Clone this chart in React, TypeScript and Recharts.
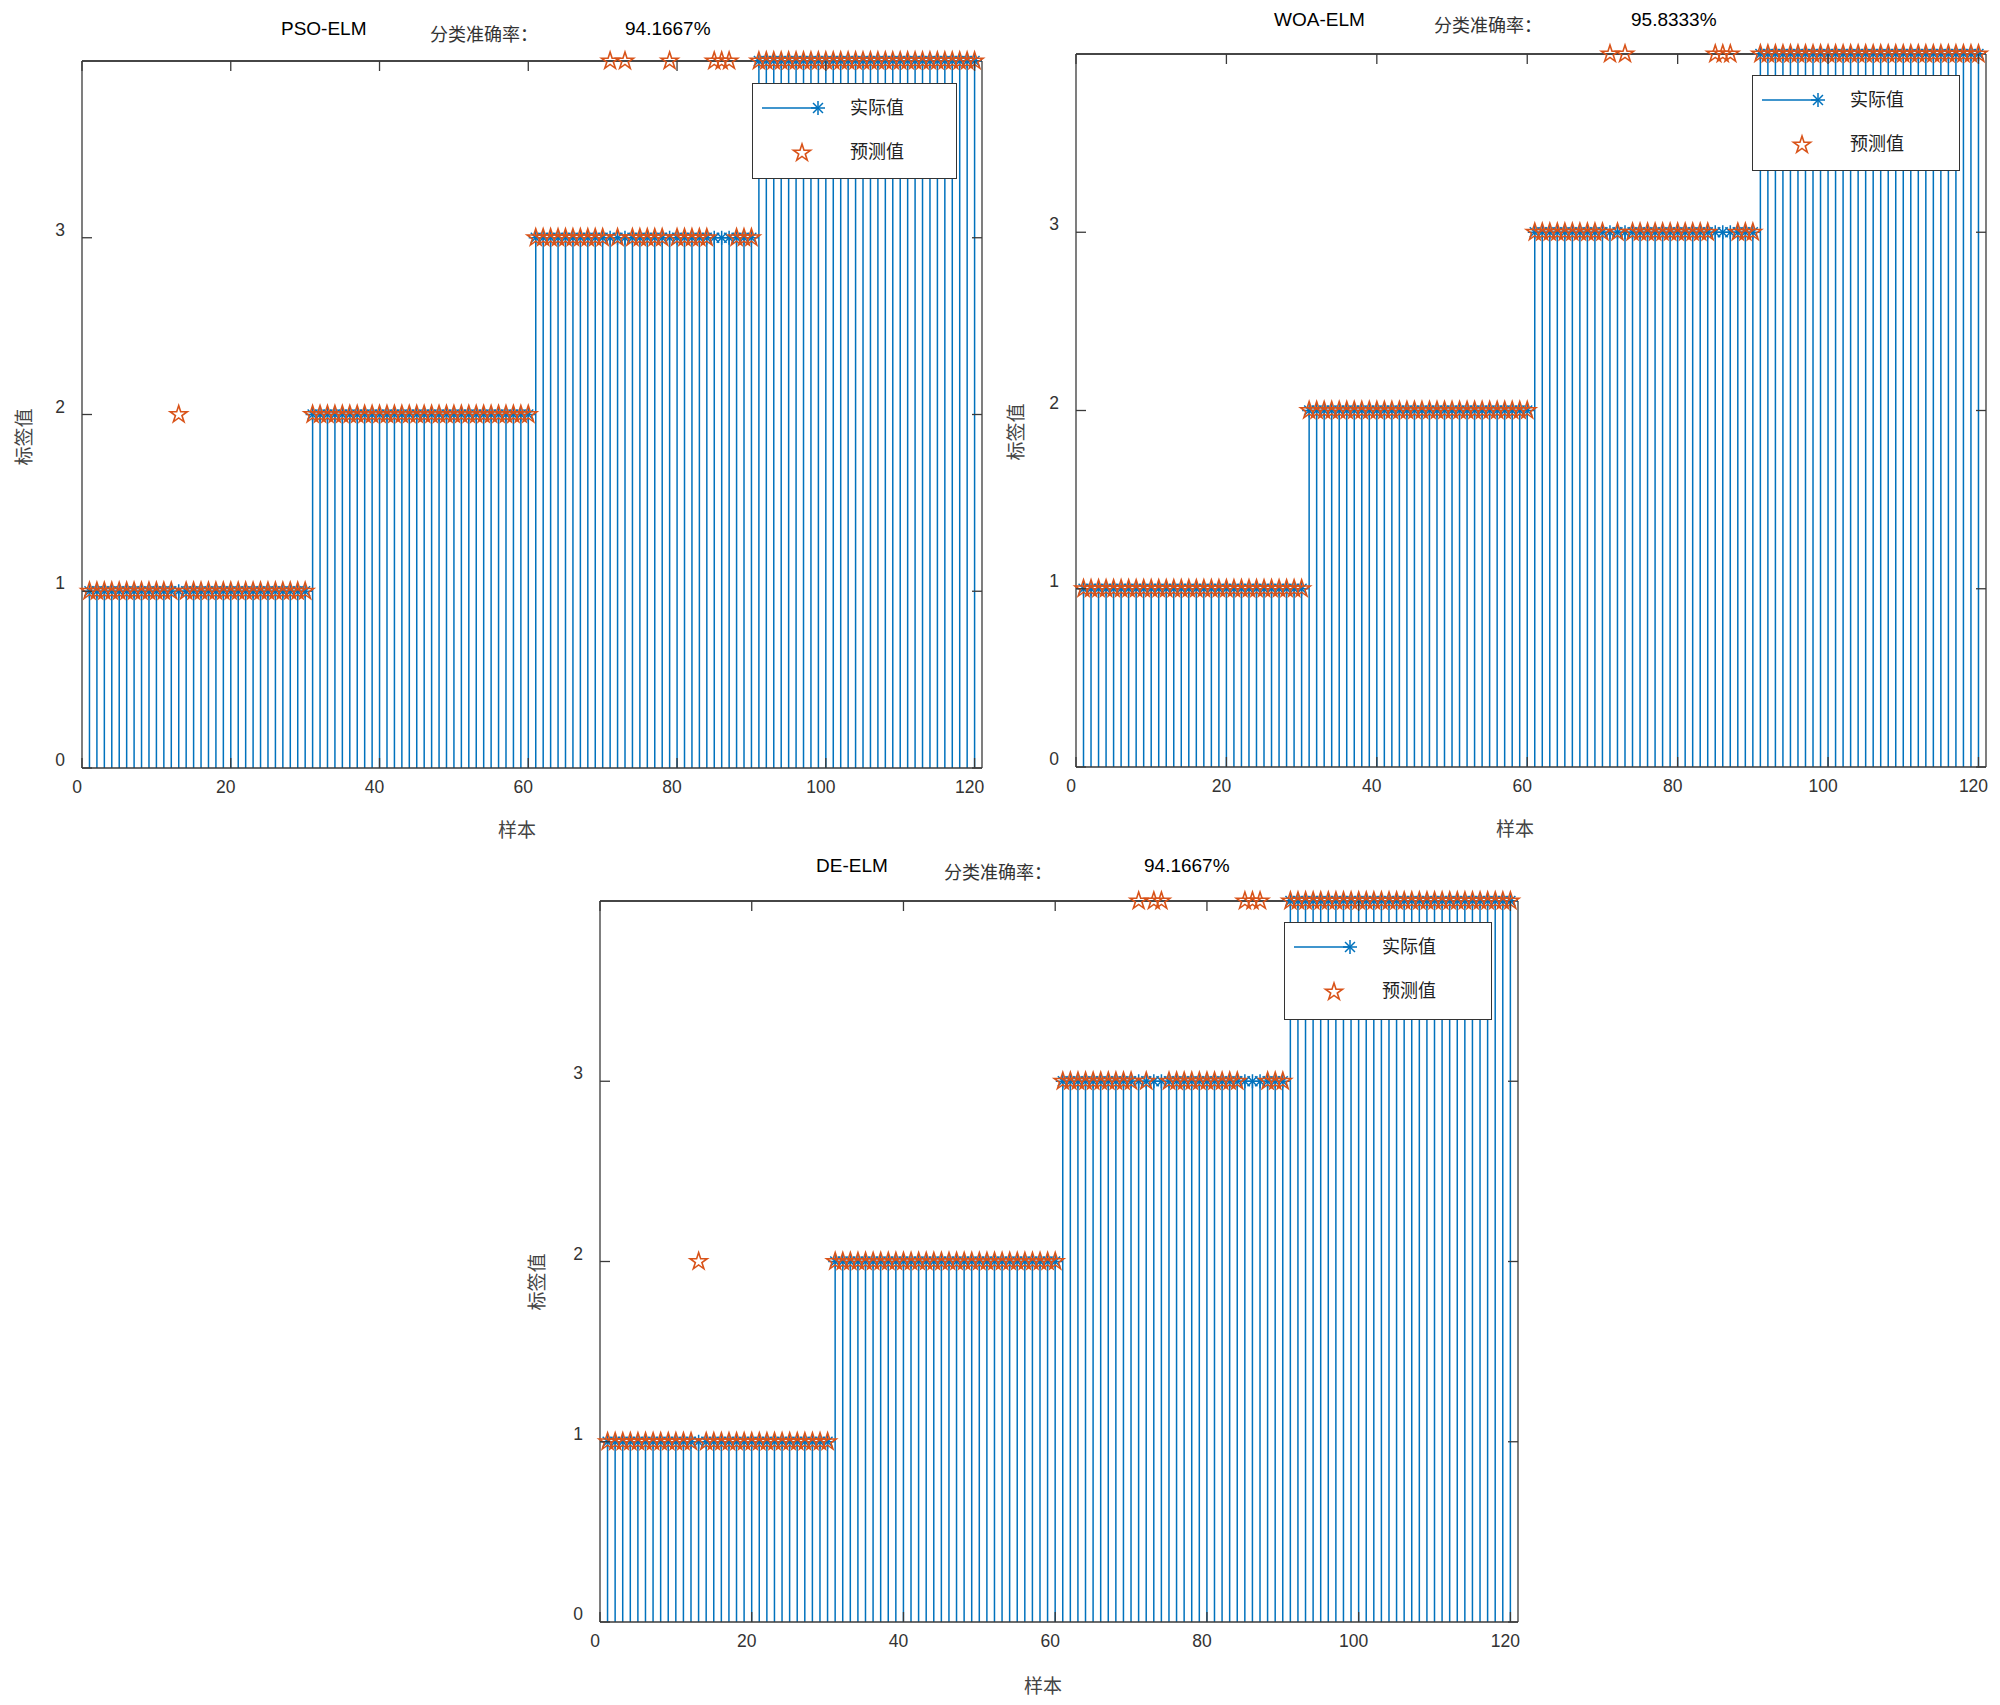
import React from 'react';
import { ComposedChart, Bar, Scatter, XAxis, YAxis, ReferenceLine } from 'recharts';

// true class label of each of the 120 test samples
const actual = [
  1, 1, 1, 1, 1, 1, 1, 1, 1, 1, 1, 1, 1, 1, 1, 1, 1, 1, 1, 1, 1, 1, 1, 1, 1, 1, 1, 1, 1, 1,
  2, 2, 2, 2, 2, 2, 2, 2, 2, 2, 2, 2, 2, 2, 2, 2, 2, 2, 2, 2, 2, 2, 2, 2, 2, 2, 2, 2, 2, 2,
  3, 3, 3, 3, 3, 3, 3, 3, 3, 3, 3, 3, 3, 3, 3, 3, 3, 3, 3, 3, 3, 3, 3, 3, 3, 3, 3, 3, 3, 3,
  4, 4, 4, 4, 4, 4, 4, 4, 4, 4, 4, 4, 4, 4, 4, 4, 4, 4, 4, 4, 4, 4, 4, 4, 4, 4, 4, 4, 4, 4,
];

const psoPred = [
  1, 1, 1, 1, 1, 1, 1, 1, 1, 1, 1, 1, 2, 1, 1, 1, 1, 1, 1, 1, 1, 1, 1, 1, 1, 1, 1, 1, 1, 1,
  2, 2, 2, 2, 2, 2, 2, 2, 2, 2, 2, 2, 2, 2, 2, 2, 2, 2, 2, 2, 2, 2, 2, 2, 2, 2, 2, 2, 2, 2,
  3, 3, 3, 3, 3, 3, 3, 3, 3, 3, 4, 3, 4, 3, 3, 3, 3, 3, 4, 3, 3, 3, 3, 3, 4, 4, 4, 3, 3, 3,
  4, 4, 4, 4, 4, 4, 4, 4, 4, 4, 4, 4, 4, 4, 4, 4, 4, 4, 4, 4, 4, 4, 4, 4, 4, 4, 4, 4, 4, 4,
];

const woaPred = [
  1, 1, 1, 1, 1, 1, 1, 1, 1, 1, 1, 1, 1, 1, 1, 1, 1, 1, 1, 1, 1, 1, 1, 1, 1, 1, 1, 1, 1, 1,
  2, 2, 2, 2, 2, 2, 2, 2, 2, 2, 2, 2, 2, 2, 2, 2, 2, 2, 2, 2, 2, 2, 2, 2, 2, 2, 2, 2, 2, 2,
  3, 3, 3, 3, 3, 3, 3, 3, 3, 3, 4, 3, 4, 3, 3, 3, 3, 3, 3, 3, 3, 3, 3, 3, 4, 4, 4, 3, 3, 3,
  4, 4, 4, 4, 4, 4, 4, 4, 4, 4, 4, 4, 4, 4, 4, 4, 4, 4, 4, 4, 4, 4, 4, 4, 4, 4, 4, 4, 4, 4,
];

const dePred = [
  1, 1, 1, 1, 1, 1, 1, 1, 1, 1, 1, 1, 2, 1, 1, 1, 1, 1, 1, 1, 1, 1, 1, 1, 1, 1, 1, 1, 1, 1,
  2, 2, 2, 2, 2, 2, 2, 2, 2, 2, 2, 2, 2, 2, 2, 2, 2, 2, 2, 2, 2, 2, 2, 2, 2, 2, 2, 2, 2, 2,
  3, 3, 3, 3, 3, 3, 3, 3, 3, 3, 4, 3, 4, 4, 3, 3, 3, 3, 3, 3, 3, 3, 3, 3, 4, 4, 4, 3, 3, 3,
  4, 4, 4, 4, 4, 4, 4, 4, 4, 4, 4, 4, 4, 4, 4, 4, 4, 4, 4, 4, 4, 4, 4, 4, 4, 4, 4, 4, 4, 4,
];

const xTicks = [0, 20, 40, 60, 80, 100, 120];
const yTicks = [0, 1, 2, 3];
const xDomain = [0, 121];
const yDomain = [0, 4];

const BLUE = '#0072BD';
const RED = '#D95319';
const AXIS = '#3a3a3a';
const LATIN = '"Liberation Sans", Arial, Helvetica, sans-serif';
const CJK = '"Noto Sans CJK SC", "Noto Sans", sans-serif';
const PAD = 60;
const TM = 8;
const XH = 30;
const YW = 30;

const panels = [
  {
    name: 'PSO-ELM', acc: '94.1667%', pred: psoPred,
    left: 82, top: 61, right: 982, bottom: 768,
    titleX: 281, titleY: 35, accLabelX: 430, accLabelY: 41, accX: 625,
    ylab: [22, 437], xlab: [517, 828],
    legend: { left: 752, top: 83, w: 205, h: 96 },
  },
  {
    name: 'WOA-ELM', acc: '95.8333%', pred: woaPred,
    left: 1076, top: 54, right: 1986, bottom: 767,
    titleX: 1274, titleY: 26, accLabelX: 1434, accLabelY: 32, accX: 1631,
    ylab: [1014, 432], xlab: [1515, 827],
    legend: { left: 1752, top: 75, w: 208, h: 96 },
  },
  {
    name: 'DE-ELM', acc: '94.1667%', pred: dePred,
    left: 600, top: 901, right: 1518, bottom: 1622,
    titleX: 816, titleY: 872, accLabelX: 944, accLabelY: 879, accX: 1144,
    ylab: [535, 1282], xlab: [1043, 1684],
    legend: { left: 1284, top: 922, w: 208, h: 98 },
  },
];

function starPath(cx: number, cy: number, R: number) {
  const r = R * 0.382;
  let d = '';
  for (let k = 0; k < 10; k++) {
    const a = ((-90 + k * 36) * Math.PI) / 180;
    const rr = k % 2 === 0 ? R : r;
    d += (k === 0 ? 'M' : 'L') + (cx + rr * Math.cos(a)).toFixed(2) + ',' + (cy + rr * Math.sin(a)).toFixed(2);
  }
  return d + 'Z';
}

const Asterisk = (props: any) => {
  const { cx, cy } = props;
  if (cx == null || cy == null) return null;
  const r = 7;
  const d = r * 0.707;
  return (
    <g stroke={BLUE} strokeWidth={1.5}>
      <line x1={cx - r} y1={cy} x2={cx + r} y2={cy} />
      <line x1={cx} y1={cy - r} x2={cx} y2={cy + r} />
      <line x1={cx - d} y1={cy - d} x2={cx + d} y2={cy + d} />
      <line x1={cx - d} y1={cy + d} x2={cx + d} y2={cy - d} />
    </g>
  );
};

const Pentagram = (props: any) => {
  const { cx, cy } = props;
  if (cx == null || cy == null) return null;
  return <path d={starPath(cx, cy, 9)} fill="none" stroke={RED} strokeWidth={1.6} />;
};

function StemPanel({ p }: { p: any }) {
  const w = p.right - p.left;
  const h = p.bottom - p.top;
  const rows = actual.map((v, i) => ({ x: i + 1, actual: v, pred: p.pred[i] }));

  // inward ticks on bottom and top edges, label under the bottom one
  const XTick = (props: any) => {
    const { x, y, payload } = props;
    const axisY = y - TM;
    return (
      <g>
        <line x1={x} x2={x} y1={axisY} y2={axisY - 10} stroke={AXIS} strokeWidth={1.3} />
        <line x1={x} x2={x} y1={axisY - h} y2={axisY - h + 10} stroke={AXIS} strokeWidth={1.3} />
        <text x={x - 5} y={axisY + 19} textAnchor="middle" dominantBaseline="central"
          fontFamily={LATIN} fontSize={17.5} fill="#333">{payload.value}</text>
      </g>
    );
  };

  // inward ticks on left and right edges, label left of the axis
  const YTick = (props: any) => {
    const { x, y, payload } = props;
    const axisX = x + TM;
    return (
      <g>
        <line x1={axisX} x2={axisX + 10} y1={y} y2={y} stroke={AXIS} strokeWidth={1.3} />
        <line x1={axisX + w - 10} x2={axisX + w} y1={y} y2={y} stroke={AXIS} strokeWidth={1.3} />
        <text x={axisX - 17} y={y - 8} textAnchor="end" dominantBaseline="central"
          fontFamily={LATIN} fontSize={17.5} fill="#333">{payload.value}</text>
      </g>
    );
  };

  return (
    <div style={{ position: 'absolute', left: p.left - PAD, top: p.top - PAD }}>
      <ComposedChart width={w + 2 * PAD} height={h + 2 * PAD} data={rows}
        margin={{ top: PAD - 1, right: PAD - 1, bottom: PAD - XH, left: PAD - YW }}>
        <XAxis dataKey="x" type="number" domain={xDomain} ticks={xTicks} interval={0}
          height={XH} tickSize={0} tickMargin={TM} tick={XTick} stroke={AXIS} strokeWidth={1.3} />
        <XAxis xAxisId="top" orientation="top" dataKey="x" type="number" domain={xDomain} ticks={xTicks}
          height={1} tickSize={0} tick={false} stroke={AXIS} strokeWidth={1.3} />
        <YAxis type="number" domain={yDomain} ticks={yTicks} interval={0}
          width={YW} tickSize={0} tickMargin={TM} tick={YTick} stroke={AXIS} strokeWidth={1.3} />
        <YAxis yAxisId="right" orientation="right" type="number" domain={yDomain} ticks={yTicks}
          width={1} tickSize={0} tick={false} stroke={AXIS} strokeWidth={1.3} />
        <ReferenceLine y={4} stroke={AXIS} strokeWidth={1.3} />
        <Bar dataKey="actual" fill={BLUE} barSize={1.5} isAnimationActive={false} />
        <Scatter dataKey="actual" shape={Asterisk} isAnimationActive={false} />
        <Scatter dataKey="pred" shape={Pentagram} isAnimationActive={false} />
      </ComposedChart>
    </div>
  );
}

function LegendBox({ l }: { l: any }) {
  return (
    <div style={{
      position: 'absolute', left: l.left, top: l.top, width: l.w, height: l.h,
      background: '#fff', border: '1.5px solid #333', boxSizing: 'border-box',
    }}>
      <svg width={l.w} height={l.h} style={{ position: 'absolute', left: -1.5, top: -1.5 }}>
        <line x1={10} x2={66} y1={25} y2={25} stroke={BLUE} strokeWidth={1.3} />
        <Asterisk cx={66} cy={25} />
        <Pentagram cx={50} cy={70} />
        <text x={98} y={23} dominantBaseline="central" fontFamily={CJK} fontSize={18} fill="#222">实际值</text>
        <text x={98} y={67} dominantBaseline="central" fontFamily={CJK} fontSize={18} fill="#222">预测值</text>
      </svg>
    </div>
  );
}

export default function App() {
  return (
    <div style={{ position: 'absolute', left: 0, top: 0, width: 2000, height: 1705, background: '#fff' }}>
      {panels.map((p) => <StemPanel key={p.name} p={p} />)}
      <svg width={2000} height={1705} style={{ position: 'absolute', left: 0, top: 0, pointerEvents: 'none' }}>
        {panels.map((p) => (
          <g key={p.name}>
            <text x={p.titleX} y={p.titleY} fontFamily={LATIN} fontSize={19} fill="#000">{p.name}</text>
            <text x={p.accLabelX} y={p.accLabelY} fontFamily={CJK} fontSize={18} fill="#333">分类准确率：</text>
            <text x={p.accX} y={p.titleY} fontFamily={LATIN} fontSize={19} fill="#000">{p.acc}</text>
            <text x={p.ylab[0]} y={p.ylab[1]} transform={`rotate(-90 ${p.ylab[0]} ${p.ylab[1]})`}
              textAnchor="middle" dominantBaseline="central" fontFamily={CJK} fontSize={19} fill="#444">标签值</text>
            <text x={p.xlab[0]} y={p.xlab[1]} textAnchor="middle" dominantBaseline="central"
              fontFamily={CJK} fontSize={19} fill="#444">样本</text>
          </g>
        ))}
      </svg>
      {panels.map((p) => <LegendBox key={p.name} l={p.legend} />)}
    </div>
  );
}
